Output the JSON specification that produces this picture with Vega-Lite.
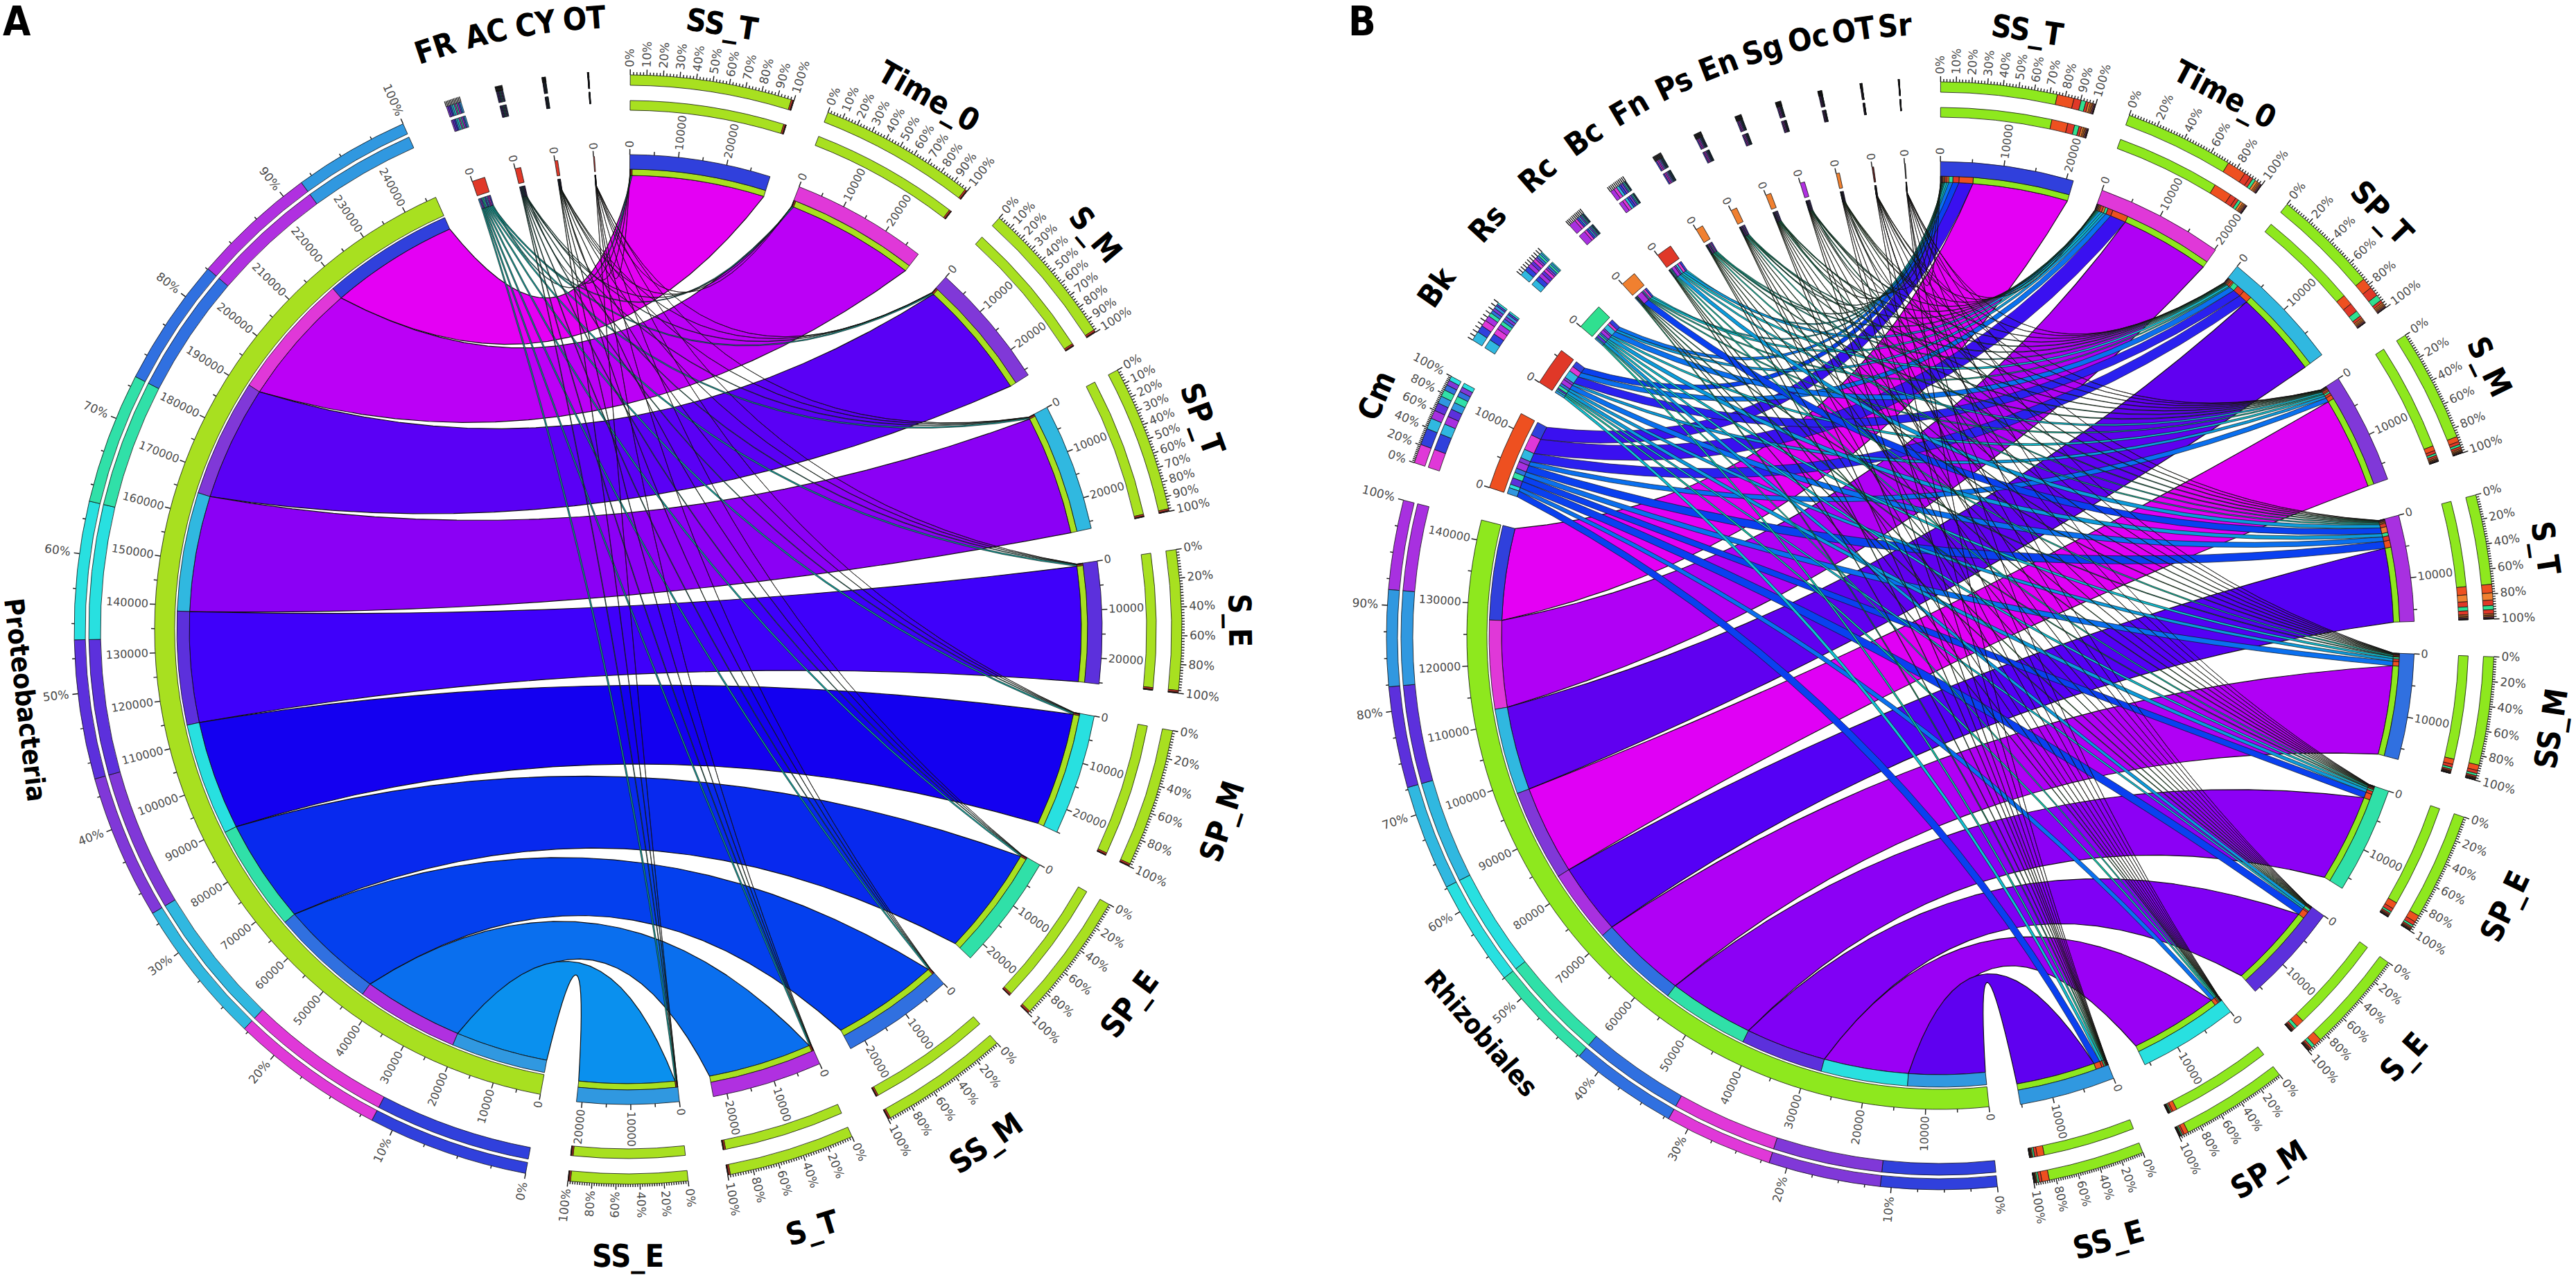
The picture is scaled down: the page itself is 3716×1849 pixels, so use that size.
{
"$schema":"https://vega.github.io/schema/vega-lite/v6.json",
"width":3716,"height":1849,"padding":0,"autosize":{"type":"none"},"background":"white",
"config":{"view":{"stroke":null}},
"data":{"values":[
{"panel":"A","taxon":"Proteobacteria","sample":"SS_T","value":28700},{"panel":"A","taxon":"Proteobacteria","sample":"Time_0","value":27700},{"panel":"A","taxon":"Proteobacteria","sample":"S_M","value":25800},{"panel":"A","taxon":"Proteobacteria","sample":"SP_T","value":26000},{"panel":"A","taxon":"Proteobacteria","sample":"S_E","value":24800},{"panel":"A","taxon":"Proteobacteria","sample":"SP_M","value":24600},{"panel":"A","taxon":"Proteobacteria","sample":"SP_E","value":23400},{"panel":"A","taxon":"Proteobacteria","sample":"SS_M","value":22900},{"panel":"A","taxon":"Proteobacteria","sample":"S_T","value":22400},{"panel":"A","taxon":"Proteobacteria","sample":"SS_E","value":20700},
{"panel":"A","taxon":"FR","sample":"SS_T","value":275},{"panel":"A","taxon":"FR","sample":"Time_0","value":265},{"panel":"A","taxon":"FR","sample":"S_M","value":285},{"panel":"A","taxon":"FR","sample":"SP_T","value":275},{"panel":"A","taxon":"FR","sample":"S_E","value":280},{"panel":"A","taxon":"FR","sample":"SP_M","value":270},{"panel":"A","taxon":"FR","sample":"SP_E","value":265},{"panel":"A","taxon":"FR","sample":"SS_M","value":260},{"panel":"A","taxon":"FR","sample":"S_T","value":265},{"panel":"A","taxon":"FR","sample":"SS_E","value":260},
{"panel":"A","taxon":"AC","sample":"SS_T","value":124},{"panel":"A","taxon":"AC","sample":"Time_0","value":119},{"panel":"A","taxon":"AC","sample":"S_M","value":124},{"panel":"A","taxon":"AC","sample":"SP_T","value":119},{"panel":"A","taxon":"AC","sample":"S_E","value":124},{"panel":"A","taxon":"AC","sample":"SP_M","value":119},{"panel":"A","taxon":"AC","sample":"SP_E","value":119},{"panel":"A","taxon":"AC","sample":"SS_M","value":114},{"panel":"A","taxon":"AC","sample":"S_T","value":119},{"panel":"A","taxon":"AC","sample":"SS_E","value":109},
{"panel":"A","taxon":"CY","sample":"SS_T","value":62},{"panel":"A","taxon":"CY","sample":"Time_0","value":57},{"panel":"A","taxon":"CY","sample":"S_M","value":62},{"panel":"A","taxon":"CY","sample":"SP_T","value":57},{"panel":"A","taxon":"CY","sample":"S_E","value":62},{"panel":"A","taxon":"CY","sample":"SP_M","value":57},{"panel":"A","taxon":"CY","sample":"SP_E","value":57},{"panel":"A","taxon":"CY","sample":"SS_M","value":57},{"panel":"A","taxon":"CY","sample":"S_T","value":62},{"panel":"A","taxon":"CY","sample":"SS_E","value":62},
{"panel":"A","taxon":"OT","sample":"SS_T","value":21},{"panel":"A","taxon":"OT","sample":"Time_0","value":19},{"panel":"A","taxon":"OT","sample":"S_M","value":24},{"panel":"A","taxon":"OT","sample":"SP_T","value":21},{"panel":"A","taxon":"OT","sample":"S_E","value":21},{"panel":"A","taxon":"OT","sample":"SP_M","value":19},{"panel":"A","taxon":"OT","sample":"SP_E","value":19},{"panel":"A","taxon":"OT","sample":"SS_M","value":19},{"panel":"A","taxon":"OT","sample":"S_T","value":21},{"panel":"A","taxon":"OT","sample":"SS_E","value":21},
{"panel":"B","taxon":"Rhizobiales","sample":"SS_T","value":15800},{"panel":"B","taxon":"Rhizobiales","sample":"Time_0","value":14800},{"panel":"B","taxon":"Rhizobiales","sample":"SP_T","value":14400},{"panel":"B","taxon":"Rhizobiales","sample":"S_M","value":15300},{"panel":"B","taxon":"Rhizobiales","sample":"S_T","value":12200},{"panel":"B","taxon":"Rhizobiales","sample":"SS_M","value":14700},{"panel":"B","taxon":"Rhizobiales","sample":"SP_E","value":14600},{"panel":"B","taxon":"Rhizobiales","sample":"S_E","value":13800},{"panel":"B","taxon":"Rhizobiales","sample":"SP_M","value":14500},{"panel":"B","taxon":"Rhizobiales","sample":"SS_E","value":13100},
{"panel":"B","taxon":"Cm","sample":"SS_T","value":2300},{"panel":"B","taxon":"Cm","sample":"Time_0","value":2600},{"panel":"B","taxon":"Cm","sample":"SP_T","value":1500},{"panel":"B","taxon":"Cm","sample":"S_M","value":700},{"panel":"B","taxon":"Cm","sample":"S_T","value":1150},{"panel":"B","taxon":"Cm","sample":"SS_M","value":750},{"panel":"B","taxon":"Cm","sample":"SP_E","value":950},{"panel":"B","taxon":"Cm","sample":"S_E","value":1100},{"panel":"B","taxon":"Cm","sample":"SP_M","value":600},{"panel":"B","taxon":"Cm","sample":"SS_E","value":1000},
{"panel":"B","taxon":"Bk","sample":"SS_T","value":1000},{"panel":"B","taxon":"Bk","sample":"Time_0","value":850},{"panel":"B","taxon":"Bk","sample":"SP_T","value":1300},{"panel":"B","taxon":"Bk","sample":"S_M","value":400},{"panel":"B","taxon":"Bk","sample":"S_T","value":750},{"panel":"B","taxon":"Bk","sample":"SS_M","value":420},{"panel":"B","taxon":"Bk","sample":"SP_E","value":500},{"panel":"B","taxon":"Bk","sample":"S_E","value":260},{"panel":"B","taxon":"Bk","sample":"SP_M","value":240},{"panel":"B","taxon":"Bk","sample":"SS_E","value":380},
{"panel":"B","taxon":"Rs","sample":"SS_T","value":650},{"panel":"B","taxon":"Rs","sample":"Time_0","value":420},{"panel":"B","taxon":"Rs","sample":"SP_T","value":850},{"panel":"B","taxon":"Rs","sample":"S_M","value":300},{"panel":"B","taxon":"Rs","sample":"S_T","value":560},{"panel":"B","taxon":"Rs","sample":"SS_M","value":300},{"panel":"B","taxon":"Rs","sample":"SP_E","value":280},{"panel":"B","taxon":"Rs","sample":"S_E","value":430},{"panel":"B","taxon":"Rs","sample":"SP_M","value":170},{"panel":"B","taxon":"Rs","sample":"SS_E","value":240},
{"panel":"B","taxon":"Rc","sample":"SS_T","value":300},{"panel":"B","taxon":"Rc","sample":"Time_0","value":350},{"panel":"B","taxon":"Rc","sample":"SP_T","value":200},{"panel":"B","taxon":"Rc","sample":"S_M","value":180},{"panel":"B","taxon":"Rc","sample":"S_T","value":950},{"panel":"B","taxon":"Rc","sample":"SS_M","value":100},{"panel":"B","taxon":"Rc","sample":"SP_E","value":120},{"panel":"B","taxon":"Rc","sample":"S_E","value":90},{"panel":"B","taxon":"Rc","sample":"SP_M","value":70},{"panel":"B","taxon":"Rc","sample":"SS_E","value":140},
{"panel":"B","taxon":"Bc","sample":"SS_T","value":330},{"panel":"B","taxon":"Bc","sample":"Time_0","value":430},{"panel":"B","taxon":"Bc","sample":"SP_T","value":350},{"panel":"B","taxon":"Bc","sample":"S_M","value":260},{"panel":"B","taxon":"Bc","sample":"S_T","value":550},{"panel":"B","taxon":"Bc","sample":"SS_M","value":180},{"panel":"B","taxon":"Bc","sample":"SP_E","value":170},{"panel":"B","taxon":"Bc","sample":"S_E","value":90},{"panel":"B","taxon":"Bc","sample":"SP_M","value":70},{"panel":"B","taxon":"Bc","sample":"SS_E","value":70},
{"panel":"B","taxon":"Fn","sample":"SS_T","value":190},{"panel":"B","taxon":"Fn","sample":"Time_0","value":180},{"panel":"B","taxon":"Fn","sample":"SP_T","value":160},{"panel":"B","taxon":"Fn","sample":"S_M","value":120},{"panel":"B","taxon":"Fn","sample":"S_T","value":180},{"panel":"B","taxon":"Fn","sample":"SS_M","value":80},{"panel":"B","taxon":"Fn","sample":"SP_E","value":80},{"panel":"B","taxon":"Fn","sample":"S_E","value":65},{"panel":"B","taxon":"Fn","sample":"SP_M","value":45},{"panel":"B","taxon":"Fn","sample":"SS_E","value":70},
{"panel":"B","taxon":"Ps","sample":"SS_T","value":155},{"panel":"B","taxon":"Ps","sample":"Time_0","value":150},{"panel":"B","taxon":"Ps","sample":"SP_T","value":135},{"panel":"B","taxon":"Ps","sample":"S_M","value":100},{"panel":"B","taxon":"Ps","sample":"S_T","value":150},{"panel":"B","taxon":"Ps","sample":"SS_M","value":70},{"panel":"B","taxon":"Ps","sample":"SP_E","value":65},{"panel":"B","taxon":"Ps","sample":"S_E","value":55},{"panel":"B","taxon":"Ps","sample":"SP_M","value":40},{"panel":"B","taxon":"Ps","sample":"SS_E","value":55},
{"panel":"B","taxon":"En","sample":"SS_T","value":135},{"panel":"B","taxon":"En","sample":"Time_0","value":130},{"panel":"B","taxon":"En","sample":"SP_T","value":120},{"panel":"B","taxon":"En","sample":"S_M","value":85},{"panel":"B","taxon":"En","sample":"S_T","value":130},{"panel":"B","taxon":"En","sample":"SS_M","value":60},{"panel":"B","taxon":"En","sample":"SP_E","value":55},{"panel":"B","taxon":"En","sample":"S_E","value":45},{"panel":"B","taxon":"En","sample":"SP_M","value":35},{"panel":"B","taxon":"En","sample":"SS_E","value":50},
{"panel":"B","taxon":"Sg","sample":"SS_T","value":115},{"panel":"B","taxon":"Sg","sample":"Time_0","value":110},{"panel":"B","taxon":"Sg","sample":"SP_T","value":100},{"panel":"B","taxon":"Sg","sample":"S_M","value":70},{"panel":"B","taxon":"Sg","sample":"S_T","value":110},{"panel":"B","taxon":"Sg","sample":"SS_M","value":50},{"panel":"B","taxon":"Sg","sample":"SP_E","value":45},{"panel":"B","taxon":"Sg","sample":"S_E","value":40},{"panel":"B","taxon":"Sg","sample":"SP_M","value":30},{"panel":"B","taxon":"Sg","sample":"SS_E","value":45},
{"panel":"B","taxon":"Oc","sample":"SS_T","value":85},{"panel":"B","taxon":"Oc","sample":"Time_0","value":80},{"panel":"B","taxon":"Oc","sample":"SP_T","value":75},{"panel":"B","taxon":"Oc","sample":"S_M","value":50},{"panel":"B","taxon":"Oc","sample":"S_T","value":80},{"panel":"B","taxon":"Oc","sample":"SS_M","value":35},{"panel":"B","taxon":"Oc","sample":"SP_E","value":35},{"panel":"B","taxon":"Oc","sample":"S_E","value":30},{"panel":"B","taxon":"Oc","sample":"SP_M","value":20},{"panel":"B","taxon":"Oc","sample":"SS_E","value":30},
{"panel":"B","taxon":"OT","sample":"SS_T","value":40},{"panel":"B","taxon":"OT","sample":"Time_0","value":40},{"panel":"B","taxon":"OT","sample":"SP_T","value":35},{"panel":"B","taxon":"OT","sample":"S_M","value":25},{"panel":"B","taxon":"OT","sample":"S_T","value":40},{"panel":"B","taxon":"OT","sample":"SS_M","value":20},{"panel":"B","taxon":"OT","sample":"SP_E","value":20},{"panel":"B","taxon":"OT","sample":"S_E","value":15},{"panel":"B","taxon":"OT","sample":"SP_M","value":10},{"panel":"B","taxon":"OT","sample":"SS_E","value":15},
{"panel":"B","taxon":"Sr","sample":"SS_T","value":20},{"panel":"B","taxon":"Sr","sample":"Time_0","value":20},{"panel":"B","taxon":"Sr","sample":"SP_T","value":20},{"panel":"B","taxon":"Sr","sample":"S_M","value":15},{"panel":"B","taxon":"Sr","sample":"S_T","value":20},{"panel":"B","taxon":"Sr","sample":"SS_M","value":10},{"panel":"B","taxon":"Sr","sample":"SP_E","value":5},{"panel":"B","taxon":"Sr","sample":"S_E","value":10},{"panel":"B","taxon":"Sr","sample":"SP_M","value":5},{"panel":"B","taxon":"Sr","sample":"SS_E","value":5}
]},
"transform":[
{"calculate":"datum.panel=='A'?5.89e-4:7.7e-4","as":"deg"},
{"calculate":"datum.panel=='A'?905:2798","as":"cx"},
{"calculate":"datum.panel=='A'?908:918","as":"cy"},
{"calculate":"{'A|SS_T':0.3,'A|Time_0':21.2,'A|S_M':42.1,'A|SP_T':62.1,'A|S_E':81.7,'A|SP_M':100.5,'A|SP_E':119.7,'A|SS_M':138.2,'A|S_T':156.1,'A|SS_E':173.7,'B|SS_T':0.1,'B|Time_0':20,'B|SP_T':38.8,'B|S_M':57.1,'B|S_T':75.2,'B|SS_M':92.1,'B|SP_E':109,'B|S_E':126,'B|SP_M':142.2,'B|SS_E':158.5}[datum.panel+'|'+datum.sample]","as":"sStart"},
{"calculate":"{'A|Proteobacteria':190.6,'A|FR':340.9,'A|AC':346.3,'A|CY':351.2,'A|OT':355.9,'B|Rhizobiales':174,'B|Cm':288.3,'B|Bk':302.4,'B|Rs':310.8,'B|Rc':318,'B|Bc':323.5,'B|Fn':329.1,'B|Ps':333.9,'B|En':338.5,'B|Sg':342.9,'B|Oc':347.4,'B|OT':351.8,'B|Sr':355.75}[datum.panel+'|'+datum.taxon]","as":"tStart"},
{"stack":"value","groupby":["panel","taxon"],"sort":[{"field":"sStart","order":"descending"}],"as":["src0","src1"]},
{"stack":"value","groupby":["panel","sample"],"sort":[{"field":"tStart","order":"descending"}],"as":["tgt0","tgt1"]},
{"stack":"value","groupby":["panel","taxon"],"sort":[{"field":"value","order":"descending"}],"as":["pt0","pt1"]},
{"stack":"value","groupby":["panel","sample"],"sort":[{"field":"value","order":"descending"}],"as":["ps0","ps1"]},
{"joinaggregate":[{"op":"sum","field":"value","as":"tTotal"}],"groupby":["panel","taxon"]},
{"joinaggregate":[{"op":"sum","field":"value","as":"sTotal"}],"groupby":["panel","sample"]},
{"calculate":"datum.tTotal>50000","as":"big"},
{"calculate":"datum.tStart+datum.src0*datum.deg","as":"a0"},
{"calculate":"datum.tStart+datum.src1*datum.deg","as":"a1"},
{"calculate":"datum.sStart+datum.tgt0*datum.deg","as":"b0"},
{"calculate":"datum.sStart+datum.tgt1*datum.deg","as":"b1"},
{"calculate":"{'A|SS_T':'#3040DC','A|Time_0':'#E038D8','A|S_M':'#8038D8','A|SP_T':'#30B8E0','A|S_E':'#5C30DC','A|SP_M':'#28E0E0','A|SP_E':'#30E0A8','A|SS_M':'#3070E0','A|S_T':'#B030E0','A|SS_E':'#3098E0','B|SS_T':'#3040DC','B|Time_0':'#E038D8','B|SP_T':'#30B8E0','B|S_M':'#8038D8','B|S_T':'#A830E0','B|SS_M':'#3070E0','B|SP_E':'#30E0A8','B|S_E':'#5C30DC','B|SP_M':'#28E0E0','B|SS_E':'#3098E0'}[datum.panel+'|'+datum.sample]","as":"ringCol"},
{"calculate":"{'A|Proteobacteria':'#A8E020','A|FR':'#E03828','A|AC':'#E03828','A|CY':'#E03828','A|OT':'#C83028','B|Rhizobiales':'#8EE81E','B|Cm':'#EE5020','B|Bk':'#E03828','B|Rs':'#30E090','B|Rc':'#F08030','B|Bc':'#E03828','B|Fn':'#F08030','B|Ps':'#F08030','B|En':'#F08030','B|Sg':'#B030E0','B|Oc':'#F08030','B|OT':'#602020','B|Sr':'#303030'}[datum.panel+'|'+datum.taxon]","as":"taxCol"},
{"calculate":"datum.big?{'A|SS_T':'#E400F4','A|Time_0':'#BB00F6','A|S_M':'#5A00F5','A|SP_T':'#8B00F5','A|S_E':'#3F00FA','A|SP_M':'#1400F0','A|SP_E':'#0829EE','A|SS_M':'#0440EE','A|S_T':'#0A6FEE','A|SS_E':'#0A90EE','B|SS_T':'#E400F4','B|Time_0':'#B000F5','B|SP_T':'#6000F0','B|S_M':'#E000F5','B|S_T':'#5500F5','B|SS_M':'#B000F5','B|SP_E':'#8C00F5','B|S_E':'#8000F5','B|SP_M':'#9A00F5','B|SS_E':'#5F00F0'}[datum.panel+'|'+datum.sample]:datum.panel=='A'?{'FR':'#10A8A0','AC':'#1A8A70','CY':'#206030','OT':'#402000'}[datum.taxon]:datum.value>=2000?'#3A10F0':datum.value>=1300?'#2A20F0':datum.value>=900?'#0A40F0':datum.value>=600?'#0A70F0':datum.value>=400?'#0C9CDC':datum.value>=250?'#10C0D0':datum.value>=150?'#10C8A8':datum.value>=100?'#109860':datum.value>=60?'#208030':datum.value>=35?'#507020':datum.value>=20?'#604010':'#401000'","as":"flowCol"}
],
"layer":[
{"transform":[
 {"calculate":"datum.big?632:642","as":"rs"},
 {"calculate":"655","as":"rt"},
 {"calculate":"datum.big?1.2:0.7","as":"sw"},
 {"calculate":"datum.big?0:0.5","as":"g"},
 {"calculate":"datum.panel+'|'+datum.taxon+'|'+datum.sample","as":"id"},
 {"calculate":"PI/180","as":"r"},
 {"calculate":"datum.rs*sin(datum.a0*datum.r)","as":"ax0"},
 {"calculate":"datum.rs*cos(datum.a0*datum.r)","as":"ay0"},
 {"calculate":"datum.rs*sin(datum.a1*datum.r)","as":"ax1"},
 {"calculate":"datum.rs*cos(datum.a1*datum.r)","as":"ay1"},
 {"calculate":"datum.rt*sin(datum.b0*datum.r)","as":"bx0"},
 {"calculate":"datum.rt*cos(datum.b0*datum.r)","as":"by0"},
 {"calculate":"datum.rt*sin(datum.b1*datum.r)","as":"bx1"},
 {"calculate":"datum.rt*cos(datum.b1*datum.r)","as":"by1"},
 {"calculate":"(datum.ax1+datum.bx0-datum.bx1-datum.ax0)/2","as":"ex"},
 {"calculate":"(datum.ay1+datum.by0-datum.by1-datum.ay0)/2","as":"ey"},
 {"calculate":"sin(datum.a1*datum.r)+sin(datum.b0*datum.r)","as":"m1x"},
 {"calculate":"cos(datum.a1*datum.r)+cos(datum.b0*datum.r)","as":"m1y"},
 {"calculate":"max(sqrt(datum.m1x*datum.m1x+datum.m1y*datum.m1y),1e-6)","as":"m1"},
 {"calculate":"365*pow(datum.m1/2,1.5)/datum.m1","as":"k1"},
 {"calculate":"sin(datum.a0*datum.r)+sin(datum.b1*datum.r)","as":"m2x"},
 {"calculate":"cos(datum.a0*datum.r)+cos(datum.b1*datum.r)","as":"m2y"},
 {"calculate":"max(sqrt(datum.m2x*datum.m2x+datum.m2y*datum.m2y),1e-6)","as":"m2"},
 {"calculate":"365*pow(datum.m2/2,1.5)/datum.m2","as":"k2"},
 {"calculate":"datum.k1*datum.m1x+datum.g*datum.ex","as":"c1x"},
 {"calculate":"datum.k1*datum.m1y+datum.g*datum.ey","as":"c1y"},
 {"calculate":"datum.k2*datum.m2x-datum.g*datum.ex","as":"c2x"},
 {"calculate":"datum.k2*datum.m2y-datum.g*datum.ey","as":"c2y"},
 {"calculate":"[0,1,2,3,4,5,6,7,8,9,10,11,12,13,14,15,16,17,18,19,20,21,22,23,24,25,26,27,28,29,30,31,32,33,34,35,36,37,38,39,40,41,42,43,44,45,46,47,48,49,50,51,52,53,54,55,56,57,58,59,60,61,62,63,64,65,66,67,68,69,70,71,72,73,74,75,76,77,78,79,80]","as":"i"},
 {"flatten":["i"]},
 {"calculate":"floor(datum.i/20)","as":"seg"},
 {"calculate":"(datum.i%20)/20","as":"u"},
 {"calculate":"datum.seg==0||datum.seg==4?datum.rs*sin((datum.a0+(datum.a1-datum.a0)*datum.u)*datum.r):datum.seg==2?datum.rt*sin((datum.b0+(datum.b1-datum.b0)*datum.u)*datum.r):datum.seg==1?(1-datum.u)*(1-datum.u)*datum.ax1+2*datum.u*(1-datum.u)*datum.c1x+datum.u*datum.u*datum.bx0:(1-datum.u)*(1-datum.u)*datum.bx1+2*datum.u*(1-datum.u)*datum.c2x+datum.u*datum.u*datum.ax0","as":"px"},
 {"calculate":"datum.seg==0||datum.seg==4?datum.rs*cos((datum.a0+(datum.a1-datum.a0)*datum.u)*datum.r):datum.seg==2?datum.rt*cos((datum.b0+(datum.b1-datum.b0)*datum.u)*datum.r):datum.seg==1?(1-datum.u)*(1-datum.u)*datum.ay1+2*datum.u*(1-datum.u)*datum.c1y+datum.u*datum.u*datum.by0:(1-datum.u)*(1-datum.u)*datum.by1+2*datum.u*(1-datum.u)*datum.c2y+datum.u*datum.u*datum.ay0","as":"py"},
 {"calculate":"datum.cx+datum.px","as":"X"},
 {"calculate":"datum.cy-datum.py","as":"Y"}
],
"mark":{"type":"line","stroke":"#101010","strokeJoin":"round"},
"encoding":{
 "x":{"field":"X","type":"quantitative","scale":{"domain":[0,3716],"nice":false,"zero":false},"axis":null},
 "y":{"field":"Y","type":"quantitative","scale":{"domain":[1849,0],"nice":false,"zero":false},"axis":null},
 "detail":{"field":"id"},
 "order":{"field":"i","type":"quantitative"},
 "fill":{"field":"flowCol","type":"nominal","scale":null},
 "strokeWidth":{"field":"sw","type":"quantitative","scale":null}
}},
{"transform":[
 {"calculate":"[0,1,2,3,4,5]","as":"part"},
 {"flatten":["part"]},
 {"calculate":"datum.part==0?datum.a0:datum.part==1?datum.b0:datum.part<4?datum.tStart+datum.pt0*datum.deg:datum.sStart+datum.ps0*datum.deg","as":"t0"},
 {"calculate":"datum.part==0?datum.a1:datum.part==1?datum.b1:datum.part<4?datum.tStart+datum.pt1*datum.deg:datum.sStart+datum.ps1*datum.deg","as":"t1"},
 {"calculate":"datum.t0*PI/180","as":"th0"},
 {"calculate":"datum.t1*PI/180","as":"th1"},
 {"calculate":"[datum.big?650:657,664,798,777,800,763][datum.part]","as":"r1"},
 {"calculate":"[datum.big?632:642,655,782,760,785,749][datum.part]","as":"r0"},
 {"calculate":"datum.part==0||datum.part==2||datum.part==3?datum.ringCol:datum.taxCol","as":"col"}
],
"mark":{"type":"arc","stroke":"#101010","strokeWidth":0.8},
"encoding":{
 "x":{"field":"cx","type":"quantitative","scale":{"domain":[0,3716],"nice":false,"zero":false},"axis":null},
 "y":{"field":"cy","type":"quantitative","scale":{"domain":[1849,0],"nice":false,"zero":false},"axis":null},
 "theta":{"field":"th0","type":"quantitative","scale":null},
 "theta2":{"field":"th1"},
 "radius":{"field":"r1","type":"quantitative","scale":null},
 "radius2":{"field":"r0"},
 "fill":{"field":"col","type":"nominal","scale":null}
}},
{"transform":[
 {"calculate":"[0,1]","as":"side"},
 {"flatten":["side"]},
 {"calculate":"datum.side==0?datum.taxon:datum.sample","as":"sector"},
 {"calculate":"datum.side==0?datum.tStart:datum.sStart","as":"start"},
 {"calculate":"datum.side==0?datum.tTotal:datum.sTotal","as":"total"},
 {"calculate":"datum.side==0?datum.taxCol:datum.ringCol","as":"col"},
 {"aggregate":[{"op":"min","field":"deg","as":"deg"},{"op":"min","field":"cx","as":"cx"},{"op":"min","field":"cy","as":"cy"}],"groupby":["panel","sector","side","start","total","col"]},
 {"calculate":"datum.start+datum.total*datum.deg","as":"end"},
 {"calculate":"(datum.start+datum.end)/2","as":"mid"},
 {"calculate":"datum.side==0&&datum.total>50000","as":"big"},
 {"calculate":"datum.side==1?685:datum.big?682:684","as":"r1"},
 {"calculate":"datum.side==1?664:datum.big?653:662","as":"r0"},
 {"calculate":"datum.big?10:(datum.side==0&&datum.sector=='Cm')?20:datum.side==0?0:(datum.panel=='A'?indexof(['SS_T','Time_0','S_M','SP_T'],datum.sector)>=0:datum.sector=='SS_T')?10:20","as":"lab"}
],
"layer":[
{"transform":[{"calculate":"datum.start*PI/180","as":"th0"},{"calculate":"datum.end*PI/180","as":"th1"}],
 "mark":{"type":"arc","stroke":"#101010","strokeWidth":0.8},
 "encoding":{
 "x":{"field":"cx","type":"quantitative","scale":{"domain":[0,3716],"nice":false,"zero":false},"axis":null},
 "y":{"field":"cy","type":"quantitative","scale":{"domain":[1849,0],"nice":false,"zero":false},"axis":null},
 "theta":{"field":"th0","type":"quantitative","scale":null},
 "theta2":{"field":"th1"},
 "radius":{"field":"r1","type":"quantitative","scale":null},
 "radius2":{"field":"r0"},
 "fill":{"field":"col","type":"nominal","scale":null}
 }},
{"transform":[
 {"calculate":"sequence(0,datum.total+1,5000)","as":"v"},{"flatten":["v"]},
 {"calculate":"(datum.start+datum.v*datum.deg)*PI/180","as":"th"},
 {"calculate":"datum.cx+datum.r1*sin(datum.th)","as":"X"},
 {"calculate":"datum.cy-datum.r1*cos(datum.th)","as":"Y"},
 {"calculate":"datum.r1+(datum.v%10000==0?8:5)","as":"rr"},
 {"calculate":"datum.cx+datum.rr*sin(datum.th)","as":"X2"},
 {"calculate":"datum.cy-datum.rr*cos(datum.th)","as":"Y2"}
 ],
 "mark":{"type":"rule","stroke":"#222222","strokeWidth":1.5},
 "encoding":{
 "x":{"field":"X","type":"quantitative","scale":{"domain":[0,3716],"nice":false,"zero":false},"axis":null},
 "y":{"field":"Y","type":"quantitative","scale":{"domain":[1849,0],"nice":false,"zero":false},"axis":null},
 "x2":{"field":"X2"},"y2":{"field":"Y2"}
 }},
{"transform":[
 {"calculate":"sequence(0,datum.total+1,10000)","as":"v"},{"flatten":["v"]},
 {"filter":"datum.big||datum.v<30000"},
 {"calculate":"datum.start+datum.v*datum.deg","as":"t"},
 {"calculate":"datum.t*PI/180","as":"th"},
 {"calculate":"datum.r1+10","as":"rr"},
 {"calculate":"datum.cx+datum.rr*sin(datum.th)","as":"X"},
 {"calculate":"datum.cy-datum.rr*cos(datum.th)","as":"Y"},
 {"calculate":"datum.t<180?datum.t-90:datum.t+90","as":"rot"},
 {"calculate":"toString(datum.v)","as":"lbl"}
 ],
 "mark":{"type":"text","font":"DejaVu Sans","fontSize":16,"fill":"#4a4a4a","baseline":"middle","align":{"expr":"datum.t<180?'left':'right'"}},
 "encoding":{
 "x":{"field":"X","type":"quantitative","scale":{"domain":[0,3716],"nice":false,"zero":false},"axis":null},
 "y":{"field":"Y","type":"quantitative","scale":{"domain":[1849,0],"nice":false,"zero":false},"axis":null},
 "text":{"field":"lbl","type":"nominal"},
 "angle":{"field":"rot","type":"quantitative","scale":null}
 }},
{"transform":[
 {"calculate":"sequence(0,100.01,datum.big?2.5:(datum.side==0&&datum.lab==0)?10:2)","as":"p"},{"flatten":["p"]},
 {"calculate":"(datum.start+(datum.end-datum.start)*datum.p/100)*PI/180","as":"th"},
 {"calculate":"datum.side==1?800:798","as":"r2"},
 {"calculate":"datum.cx+datum.r2*sin(datum.th)","as":"X"},
 {"calculate":"datum.cy-datum.r2*cos(datum.th)","as":"Y"},
 {"calculate":"datum.r2+(datum.lab>0&&datum.p%datum.lab==0?8:datum.side==0&&datum.lab==0?8:4)","as":"rr"},
 {"calculate":"datum.cx+datum.rr*sin(datum.th)","as":"X2"},
 {"calculate":"datum.cy-datum.rr*cos(datum.th)","as":"Y2"}
 ],
 "mark":{"type":"rule","stroke":"#111111","strokeWidth":1.4},
 "encoding":{
 "x":{"field":"X","type":"quantitative","scale":{"domain":[0,3716],"nice":false,"zero":false},"axis":null},
 "y":{"field":"Y","type":"quantitative","scale":{"domain":[1849,0],"nice":false,"zero":false},"axis":null},
 "x2":{"field":"X2"},"y2":{"field":"Y2"}
 }},
{"transform":[
 {"filter":"datum.lab>0"},
 {"calculate":"sequence(0,100.01,datum.lab)","as":"p"},{"flatten":["p"]},
 {"calculate":"datum.start+(datum.end-datum.start)*datum.p/100","as":"t"},
 {"calculate":"datum.t*PI/180","as":"th"},
 {"calculate":"811","as":"rr"},
 {"calculate":"datum.cx+datum.rr*sin(datum.th)","as":"X"},
 {"calculate":"datum.cy-datum.rr*cos(datum.th)","as":"Y"},
 {"calculate":"datum.t<180?datum.t-90:datum.t+90","as":"rot"},
 {"calculate":"datum.p+'%'","as":"lbl"}
 ],
 "mark":{"type":"text","font":"DejaVu Sans","fontSize":17,"fill":"#4a4a4a","baseline":"middle","align":{"expr":"datum.t<180?'left':'right'"}},
 "encoding":{
 "x":{"field":"X","type":"quantitative","scale":{"domain":[0,3716],"nice":false,"zero":false},"axis":null},
 "y":{"field":"Y","type":"quantitative","scale":{"domain":[1849,0],"nice":false,"zero":false},"axis":null},
 "text":{"field":"lbl","type":"nominal"},
 "angle":{"field":"rot","type":"quantitative","scale":null}
 }},
{"transform":[
 {"calculate":"datum.big?876:(datum.side==1&&datum.mid>90)?885+20*min(1,(datum.mid-90)/20):882","as":"rr"},
 {"calculate":"datum.mid*PI/180","as":"th"},
 {"calculate":"datum.cx+datum.rr*sin(datum.th)","as":"X"},
 {"calculate":"datum.cy-datum.rr*cos(datum.th)","as":"Y"},
 {"calculate":"datum.mid<=90?datum.mid:datum.mid<270?datum.mid-180:datum.mid-360","as":"rot"}
 ],
 "mark":{"type":"text","font":"DejaVu Sans Condensed","fontWeight":"bold","fontSize":{"expr":"datum.big?39:45"},"fill":"#000000","baseline":"middle","align":"center"},
 "encoding":{
 "x":{"field":"X","type":"quantitative","scale":{"domain":[0,3716],"nice":false,"zero":false},"axis":null},
 "y":{"field":"Y","type":"quantitative","scale":{"domain":[1849,0],"nice":false,"zero":false},"axis":null},
 "text":{"field":"sector","type":"nominal"},
 "angle":{"field":"rot","type":"quantitative","scale":null}
 }}
]},
{"transform":[
 {"aggregate":[{"op":"count","as":"n"}],"groupby":["panel"]},
 {"calculate":"datum.panel=='A'?4:1945","as":"X"},
 {"calculate":"34","as":"Y"}
],
"mark":{"type":"text","font":"DejaVu Sans Condensed","fontWeight":"bold","fontSize":58,"fill":"#000000","baseline":"middle","align":"left"},
"encoding":{
 "x":{"field":"X","type":"quantitative","scale":{"domain":[0,3716],"nice":false,"zero":false},"axis":null},
 "y":{"field":"Y","type":"quantitative","scale":{"domain":[1849,0],"nice":false,"zero":false},"axis":null},
 "text":{"field":"panel","type":"nominal"}
}}
]
}
